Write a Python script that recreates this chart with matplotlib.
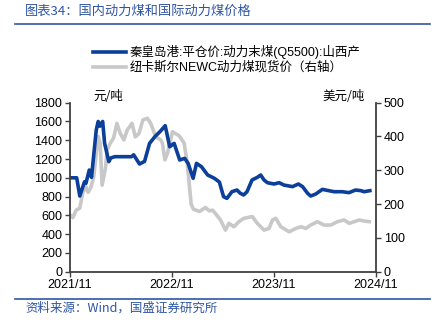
import matplotlib
matplotlib.use("Agg")
import matplotlib.pyplot as plt
import matplotlib.dates as mdates
import pandas as pd

plt.rcParams['font.family'] = ['Liberation Sans', 'Noto Sans CJK SC', 'DejaVu Sans']

# 秦皇岛港 平仓价 动力末煤(Q5500) 山西产, 元/吨
qhd_dates = ["2021-11-01", "2021-11-25", "2021-12-06", "2021-12-23", "2021-12-28",
             "2022-01-09", "2022-01-17", "2022-02-03", "2022-02-10", "2022-02-16",
             "2022-02-26", "2022-03-05", "2022-03-20", "2022-03-27", "2022-04-10",
             "2022-06-09", "2022-06-17", "2022-07-08", "2022-07-26", "2022-08-13",
             "2022-09-01", "2022-09-19", "2022-10-08", "2022-10-24", "2022-11-09",
             "2022-11-19", "2022-11-29", "2022-12-17", "2022-12-29", "2023-01-16",
             "2023-01-28", "2023-02-15", "2023-03-09", "2023-04-02", "2023-04-20",
             "2023-05-05", "2023-05-17", "2023-06-04", "2023-06-22", "2023-07-04",
             "2023-07-16", "2023-07-28", "2023-08-15", "2023-09-03", "2023-09-15",
             "2023-09-27", "2023-10-09", "2023-11-02", "2023-11-20", "2023-12-07",
             "2024-01-07", "2024-01-28", "2024-02-12", "2024-03-01", "2024-03-12",
             "2024-03-30", "2024-04-23", "2024-05-16", "2024-06-04", "2024-07-03",
             "2024-07-27", "2024-08-20", "2024-09-08", "2024-09-19", "2024-10-10"]
qhd_price = [1000, 1000, 806, 958, 941,
             1083, 1005, 1509, 1600, 1550,
             1600, 1367, 1172, 1211, 1225,
             1225, 1245, 1147, 1175, 1367,
             1438, 1491, 1555, 1331, 1367,
             1278, 1190, 1207, 1154, 995,
             1154, 1118, 1030, 995, 955,
             799, 781, 852, 870, 835,
             817, 852, 977, 1005, 1030,
             977, 948, 934, 948, 923,
             906, 934, 906, 835, 806,
             827, 877, 863, 852, 852,
             842, 870, 863, 852, 863]

# 纽卡斯尔NEWC动力煤现货价, 美元/吨 (右轴)
newc_dates = ["2021-11-01", "2021-11-11", "2021-11-23", "2021-12-06", "2021-12-17",
              "2021-12-28", "2022-01-05", "2022-01-15", "2022-01-25", "2022-02-03",
              "2022-02-10", "2022-02-17", "2022-02-24", "2022-03-08", "2022-03-14",
              "2022-03-25", "2022-04-06", "2022-04-18", "2022-04-30", "2022-05-13",
              "2022-05-25", "2022-06-11", "2022-06-23", "2022-07-06", "2022-07-20",
              "2022-08-05", "2022-08-17", "2022-09-04", "2022-09-22", "2022-09-28",
              "2022-10-07", "2022-10-16", "2022-11-03", "2022-11-27", "2022-12-15",
              "2022-12-26", "2023-01-09", "2023-01-17", "2023-02-08", "2023-03-01",
              "2023-03-15", "2023-03-27", "2023-04-08", "2023-04-24", "2023-05-12",
              "2023-05-24", "2023-06-11", "2023-06-29", "2023-07-17", "2023-08-16",
              "2023-09-03", "2023-09-27", "2023-10-15", "2023-10-27", "2023-11-08",
              "2023-11-26", "2023-12-26", "2024-01-19", "2024-02-06", "2024-02-24",
              "2024-03-12", "2024-04-05", "2024-04-29", "2024-05-23", "2024-06-16",
              "2024-07-10", "2024-07-28", "2024-08-15", "2024-09-02", "2024-09-20",
              "2024-10-08"]
newc_price = [168, 160, 182, 188, 235,
              251, 235, 250, 281, 350,
              400, 380, 256, 306, 360,
              380, 395, 439, 409, 390,
              419, 439, 399, 409, 449,
              454, 439, 399, 390, 380,
              331, 350, 414, 402, 380,
              320, 200, 185, 178, 190,
              180, 182, 170, 153, 123,
              143, 133, 148, 158, 163,
              143, 123, 128, 153, 158,
              133, 118, 128, 133, 128,
              138, 148, 138, 138, 148,
              153, 143, 148, 153, 150,
              148]

x_ticks = ["2021-11-01", "2022-11-01", "2023-11-01", "2024-11-01"]
x_labels = ["2021/11", "2022/11", "2023/11", "2024/11"]

BLUE = "#0B3F99"
GRAY = "#C8C8C8"
TXT_BLUE = "#2F55A4"
AX = "#404040"

fig = plt.figure(figsize=(4.32, 3.25), dpi=100)
ax = fig.add_axes([70 / 432, 1 - 271.7 / 325, 306 / 432, 169 / 325])
ax2 = ax.twinx()

l2, = ax2.plot(pd.to_datetime(newc_dates), newc_price, color=GRAY, lw=2.6,
               label="纽卡斯尔NEWC动力煤现货价（右轴）")
l1, = ax.plot(pd.to_datetime(qhd_dates), qhd_price, color=BLUE, lw=2.6,
              label="秦皇岛港:平仓价:动力末煤(Q5500):山西产")
ax.set_zorder(ax2.get_zorder() + 1)
ax.patch.set_visible(False)

ax.set_ylim(0, 1800)
ax.set_yticks(range(0, 1801, 200))
ax2.set_ylim(0, 500)
ax2.set_yticks(range(0, 501, 100))
ax.set_xlim(pd.Timestamp("2021-11-01"), pd.Timestamp("2024-11-01"))
ax.set_xticks(pd.to_datetime(x_ticks))
ax.set_xticklabels(x_labels)

for a in (ax, ax2):
    a.spines['top'].set_visible(False)
    for s in ('left', 'right', 'bottom'):
        a.spines[s].set_color(AX)
        a.spines[s].set_linewidth(1.3)
    a.tick_params(colors="black", labelsize=9, length=3.5, width=1, pad=2)
    a.tick_params(axis='both', color=AX)
ax.spines['right'].set_visible(False)
ax2.spines['left'].set_visible(False)
ax2.spines['bottom'].set_visible(False)

ax.text(0.075, 1.0, "元/吨", transform=ax.transAxes, fontsize=9, ha='left', va='bottom',
        family=['Noto Sans CJK SC', 'DejaVu Sans'])
ax.text(0.965, 1.0, "美元/吨", transform=ax.transAxes, fontsize=9, ha='right', va='bottom',
        family=['Noto Sans CJK SC', 'DejaVu Sans'])

fig.legend(handles=[l1, l2], loc='upper left', bbox_to_anchor=(88 / 432, 1 - 40 / 325),
           frameon=False, fontsize=9, handlelength=2.6, handletextpad=0.3,
           labelspacing=0.2, borderaxespad=0,
           prop={'family': ['Liberation Sans', 'Noto Sans CJK SC'], 'size': 9})

fig.text(25 / 432, 1 - 11 / 325, "图表34：国内动力煤和国际动力煤价格", color=TXT_BLUE,
         fontsize=9.5, style='italic', va='center', ha='left',
         family=['Noto Sans CJK SC', 'DejaVu Sans'])
fig.add_artist(plt.Line2D([15 / 432, 430 / 432], [1 - 23.5 / 325] * 2,
                          transform=fig.transFigure, color=TXT_BLUE, lw=1.2))
fig.add_artist(plt.Line2D([15 / 432, 430 / 432], [1 - 299 / 325] * 2,
                          transform=fig.transFigure, color=TXT_BLUE, lw=1.2))
fig.text(25 / 432, 1 - 308 / 325, "资料来源：Wind，国盛证券研究所", color=TXT_BLUE,
         fontsize=9, style='italic', va='center', ha='left',
         family=['Noto Sans CJK SC', 'DejaVu Sans'])

fig.savefig("out.png", dpi=100)
